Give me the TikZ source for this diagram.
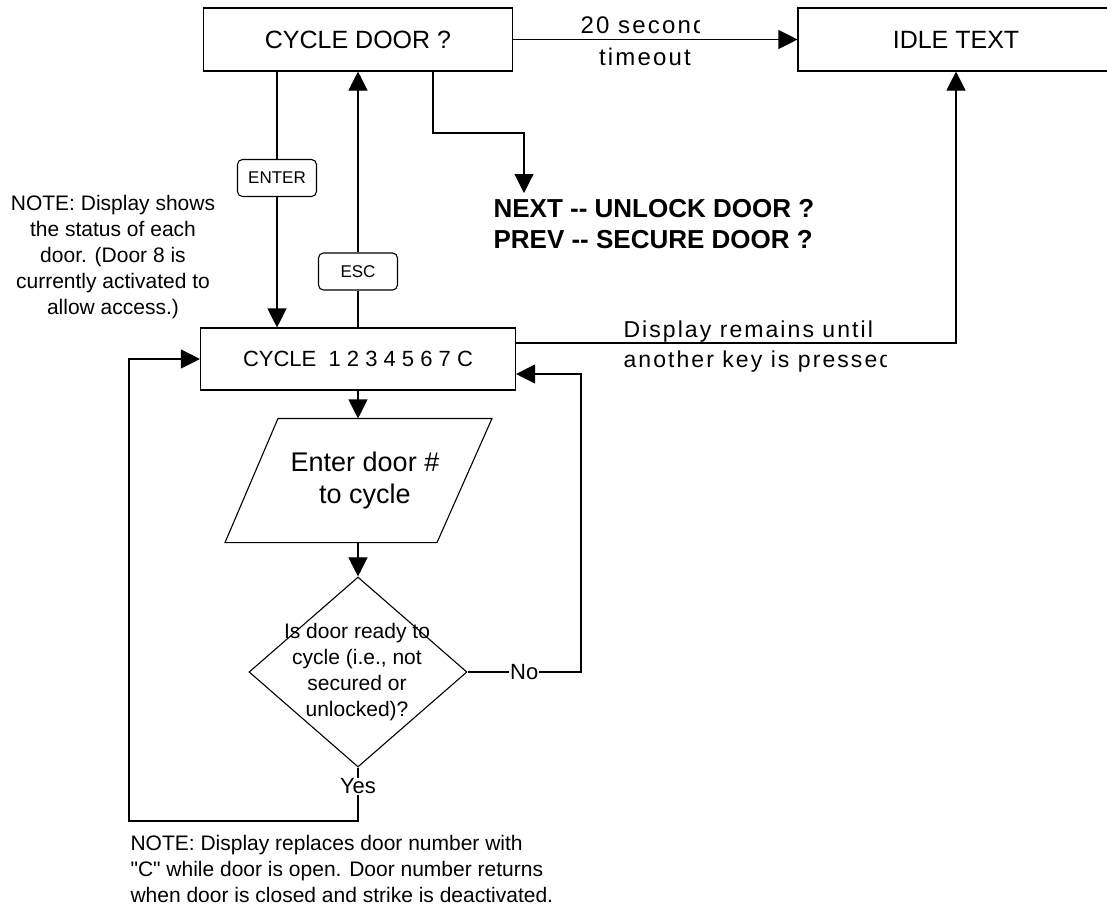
\documentclass[tikz,border=0pt]{standalone}
\usepackage{fontspec}
\setmainfont{Liberation Sans}
\newfontfamily\spacedfont[LetterSpace=9]{Liberation Sans}
\usetikzlibrary{arrows.meta}
\usetikzlibrary{shapes.geometric}

\newcommand{\fs}[2]{\fontsize{#1}{#2}\selectfont}

\begin{document}
\begin{tikzpicture}[x=1pt, y=-1pt, line width=1.1pt,
    arr/.style={-{Triangle[length=19pt,width=19pt]}},
    box/.style={draw, rectangle, inner sep=0pt},
    keybox/.style={draw, fill=white, rounded corners=5pt, minimum width=79pt, minimum height=37pt, inner sep=0pt, font=\fs{17}{20}},
    note/.style={inner sep=0pt, font=\fs{21}{26}}]
      \useasboundingbox (0,0) rectangle (1107,908);
      \clip (0,0) rectangle (1107,908);

      \node[box, minimum width=309pt, minimum height=63pt, font=\fs{25}{30}] (cycdoor) at (358,39.5) {CYCLE DOOR ?};
      \node[box, minimum width=316pt, minimum height=63pt, font=\fs{25}{30}] (idle) at (956,39.5) {IDLE TEXT};
      \node[box, minimum width=315pt, minimum height=62pt, font=\fs{22}{26}] (cycle) at (358,359) {CYCLE\ \ 1 2 3 4 5 6 7 C\hspace{8pt}};
      \node[keybox] (enter) at (277,178) {ENTER};
      \node[keybox] (esc) at (358,271.5) {ESC};
      \node[inner sep=0pt, minimum width=267pt, minimum height=123pt, align=center, font=\fs{27}{32}] (entry) at (365,480.5) {Enter door \#\\to cycle};
      \node[diamond, draw, inner sep=0pt, minimum width=218pt, minimum height=190pt] (ready) at (358,672) {};
      \node[note, align=center] (readytxt) at (357,672) {Is door ready to\\cycle (i.e., not\\secured or\\unlocked)?};
      \node[inner sep=0pt, align=left, anchor=west, font=\bfseries\fs{26}{31}] (nextprev) at (493,224) {NEXT -{}- UNLOCK DOOR ?\\PREV -{}- SECURE DOOR ?};
      \node[note, align=center] (statusnote) at (113,257) {NOTE: Display shows\\the status of each\\door. (Door 8 is\\currently activated to\\allow access.)};
      \node[note, align=left, anchor=west] (opennote) at (130,868.5) {NOTE: Display replaces door number with\\\textquotedbl C\textquotedbl\ while door is open. Door number returns\\when door is closed and strike is deactivated.};

      \coordinate (nextdrop) at (433,133);
      \coordinate (nexttip) at (524,193);
      \coordinate (noturn) at (581,672);
      \coordinate (yesturn) at (358,821);
      \coordinate (loopturn) at (129,821);

      \draw[arr] (cycdoor) -- (idle);
      \begin{scope}
        \clip (512,0) rectangle (699,39);
        \node[inner sep=0pt, anchor=base west, font=\spacedfont\fs{24}{28}] (waitsec) at (580,33) {20 second};
      \end{scope}
      \node[inner sep=0pt, anchor=base, font=\spacedfont\fs{24}{28}] (waittime) at (645,65) {timeout};

      \draw (cycdoor.south -| enter) -- (enter);
      \draw[arr] (enter) -- (cycle.north -| enter);
      \draw (cycle.north -| esc) -- (esc);
      \draw[arr] (esc) -- (cycdoor.south -| esc);
      \draw[arr] (cycdoor.south -| nextdrop) -- (nextdrop) -| (nexttip);

      \draw[arr] ([yshift=16pt]cycle.east) -| (idle.south);
      \node[inner sep=0pt, anchor=base west, font=\spacedfont\fs{23}{28}] (keyline) at (623,337) {Display remains until};
      \begin{scope}
        \clip (600,345) rectangle (886,380);
        \node[inner sep=0pt, anchor=base west, font=\spacedfont\fs{23}{28}] (keyline2) at (623,367) {another key is pressed};
      \end{scope}

      \draw[arr] (cycle) -- (cycle.south |- entry.north);
      \draw ([xshift=-87pt]entry.north) -- ([xshift=127pt]entry.north) -- ([xshift=72pt]entry.south) -- ([xshift=-140pt]entry.south) -- cycle;
      \draw[arr] (ready.north |- entry.south) -- (ready);
      \draw[arr] (ready.east) -- node[fill=white, inner sep=1pt, font=\fs{22}{26}] (nolbl) {No} (noturn) |- ([yshift=-15pt]cycle.east);
      \draw[arr] (ready.south) -- node[pos=0.35, fill=white, inner sep=1pt, font=\fs{22}{26}] (yeslbl) {Yes} (yesturn) -- (loopturn) |- (cycle.west);
    \end{tikzpicture}
\end{document}
